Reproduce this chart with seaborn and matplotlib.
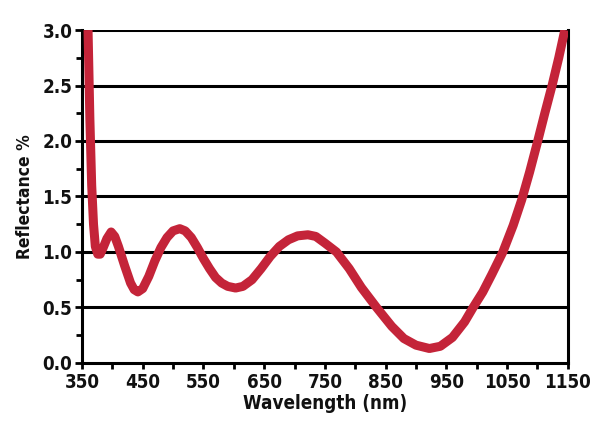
import matplotlib
matplotlib.use("Agg")
import matplotlib.pyplot as plt
import seaborn as sns
import pandas as pd
from matplotlib.ticker import MultipleLocator

wavelength = [360, 363, 366, 369, 372, 376, 380, 385, 391, 398, 404, 410, 420, 430, 436, 442,
              450, 460, 470, 480, 490, 500, 511, 520, 530, 540, 550, 560, 570, 580, 590, 603,
              615, 630, 645, 660, 675, 690, 705, 722, 735, 750, 769, 790, 810, 835, 860, 880,
              900, 922, 940, 960, 980, 994, 1010, 1025, 1043, 1060, 1074, 1087, 1099, 1112,
              1124, 1135, 1145]
reflectance = [3.0, 2.2, 1.6, 1.25, 1.05, 0.98, 0.98, 1.04, 1.12, 1.18, 1.14, 1.05, 0.88, 0.72, 0.66, 0.64,
               0.67, 0.78, 0.92, 1.04, 1.13, 1.19, 1.21, 1.19, 1.13, 1.04, 0.94, 0.85, 0.77, 0.72, 0.69, 0.675,
               0.69, 0.75, 0.85, 0.96, 1.05, 1.11, 1.145, 1.155, 1.14, 1.08, 1.0, 0.85, 0.68, 0.5, 0.33, 0.22,
               0.16, 0.13, 0.15, 0.23, 0.37, 0.5, 0.64, 0.8, 1.0, 1.24, 1.47, 1.72, 1.97, 2.25,
               2.5, 2.75, 3.0]
x_ticks = [350, 450, 550, 650, 750, 850, 950, 1050, 1150]
y_ticks = [0.0, 0.5, 1.0, 1.5, 2.0, 2.5, 3.0]

df = pd.DataFrame({"Wavelength": wavelength, "Reflectance": reflectance})

sns.set_style("white")
plt.rcParams['font.family'] = ['DejaVu Sans']
plt.rcParams['font.stretch'] = 'condensed'
plt.rcParams['font.weight'] = 'bold'
plt.rcParams['axes.labelweight'] = 'bold'

fig = plt.figure(figsize=(5.94, 4.29), dpi=100)
ax = fig.add_axes([0.138, 0.154, 0.818, 0.776])

for yv in y_ticks[1:]:
    ax.axhline(yv, color='black', lw=2.2, zorder=1)

sns.lineplot(data=df, x="Wavelength", y="Reflectance", ax=ax, color='#c42439',
             lw=6.5, zorder=3, solid_capstyle='butt', solid_joinstyle='round')

ax.set_xlim(350, 1150)
ax.set_ylim(0, 3.0)
ax.set_xticks(x_ticks)
ax.set_xticklabels([str(v) for v in x_ticks])
ax.set_yticks(y_ticks)
ax.set_yticklabels([f"{v:.1f}" for v in y_ticks])
ax.xaxis.set_minor_locator(MultipleLocator(50))
ax.yaxis.set_minor_locator(MultipleLocator(0.25))

for side in ['left', 'bottom', 'right']:
    ax.spines[side].set_visible(True)
    ax.spines[side].set_color('black')
    ax.spines[side].set_linewidth(2.2)
ax.spines['top'].set_visible(False)

ax.tick_params(axis='both', which='both', direction='out', color='black', width=2,
               labelsize=13.5, labelcolor='#111111', left=True, bottom=True, right=False, top=False)
ax.tick_params(axis='x', which='major', length=4, pad=3)
ax.tick_params(axis='x', which='minor', length=4)
ax.tick_params(axis='y', which='major', length=5, pad=2)
ax.tick_params(axis='y', which='minor', length=4)

ax.set_xlabel("Wavelength (nm)", fontsize=13.5, labelpad=2, color='#111111', fontweight='bold')
ax.set_ylabel("Reflectance %", fontsize=12.5, labelpad=6, color='#111111', fontweight='bold')

fig.savefig("out.png", dpi=100)
